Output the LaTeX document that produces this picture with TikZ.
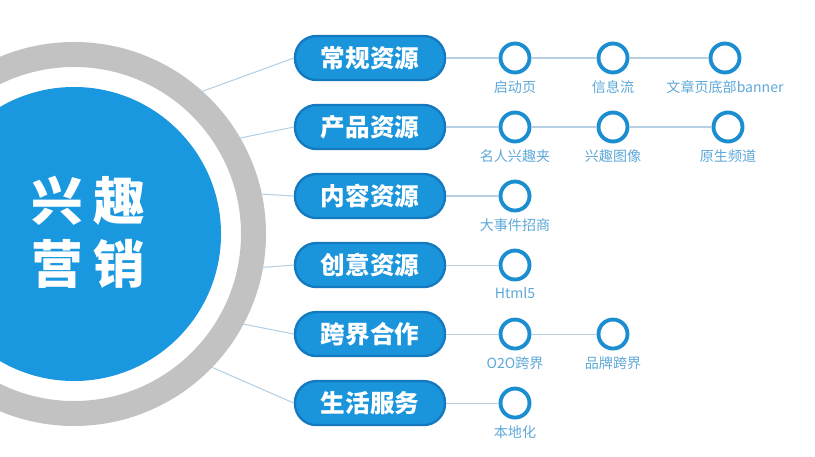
\documentclass[tikz,border=0pt]{standalone}
\usepackage{fontspec}
\usepackage{xcolor}
\usepackage{tikz}
\usetikzlibrary{positioning}
\newfontfamily\cjk{Noto Sans CJK SC}
\definecolor{discblue}{HTML}{1A98DF}
\definecolor{pillblue}{HTML}{1A95DC}
\definecolor{pilledge}{HTML}{1479BE}
\definecolor{ringgray}{HTML}{C2C2C2}
\definecolor{dotblue}{HTML}{1A8ED0}
\definecolor{linkblue}{HTML}{B6CFE2}
\definecolor{labelblue}{HTML}{5EA8D8}

\begin{document}
\begin{tikzpicture}[
    x=0.03cm, y=-0.03cm,
    node distance=0.68cm,
    res/.style={
        rectangle, rounded corners=0.64cm,
        draw=pilledge, line width=2pt, fill=pillblue,
        minimum width=4.5cm, minimum height=1.32cm, inner sep=0pt,
        text=white, font=\cjk\bfseries\fontsize{21}{21}\selectfont
    },
    dot/.style={circle, draw=dotblue, line width=3.3pt, fill=white,
        minimum size=0.87cm, inner sep=0pt},
    lbl/.style={text=labelblue, font=\cjk\fontsize{12}{12}\selectfont, inner sep=1pt},
    link/.style={draw=linkblue, line width=0.9pt}
]
\useasboundingbox (0,0) rectangle (815,457);
\clip (0,0) rectangle (815,457);

% big circle
\node[circle, draw=ringgray, line width=0.75cm, fill=white,
      minimum size=10.77cm, inner sep=0pt] (ring) at (74,234) {};
\node[circle, fill=discblue, minimum size=8.82cm, inner sep=0pt] (disc) at (74,234) {};
\node[text=white, align=center, font=\cjk\bfseries\fontsize{44}{54}\selectfont]
    (title) at (88,232) {兴\hspace{9pt}趣\\营\hspace{9pt}销};

% resources
\node[res] (p1) at (370,58) {常规资源};
\node[res, below=of p1] (p2) {产品资源};
\node[res, below=of p2] (p3) {内容资源};
\node[res, below=of p3] (p4) {创意资源};
\node[res, below=of p4] (p5) {跨界合作};
\node[res, below=of p5] (p6) {生活服务};

% dots
\node[dot] (d11) at (515,0 |- p1) {};
\node[dot] (d12) at (613,0 |- p1) {};
\node[dot] (d13) at (725,0 |- p1) {};
\node[dot] (d21) at (515,0 |- p2) {};
\node[dot] (d22) at (613,0 |- p2) {};
\node[dot] (d23) at (728,0 |- p2) {};
\node[dot] (d31) at (515,0 |- p3) {};
\node[dot] (d41) at (515,0 |- p4) {};
\node[dot] (d51) at (515,0 |- p5) {};
\node[dot] (d52) at (613,0 |- p5) {};
\node[dot] (d61) at (515,0 |- p6) {};

\node[lbl, below=4pt of d11] (t11) {启动页};
\node[lbl, below=4pt of d12] (t12) {信息流};
\node[lbl, below=4pt of d13] (t13) {文章页底部banner};
\node[lbl, below=4pt of d21] (t21) {名人兴趣夹};
\node[lbl, below=4pt of d22] (t22) {兴趣图像};
\node[lbl, below=4pt of d23] (t23) {原生频道};
\node[lbl, below=4pt of d31] (t31) {大事件招商};
\node[lbl, below=4pt of d41] (t41) {Html5};
\node[lbl, below=4pt of d51] (t51) {O2O跨界};
\node[lbl, below=4pt of d52] (t52) {品牌跨界};
\node[lbl, below=4pt of d61] (t61) {本地化};

% links
\draw[link] (ring.48) -- (p1.west);
\draw[link] (ring.30) -- (p2.west);
\draw[link] (ring.12) -- (p3.west);
\draw[link] (ring.-10) -- (p4.west);
\draw[link] (ring.-28) -- (p5.west);
\draw[link] (ring.-44) -- (p6.west);

\draw[link] (p1) -- (d11);
\draw[link] (d11) -- (d12);
\draw[link] (d12) -- (d13);
\draw[link] (p2) -- (d21);
\draw[link] (d21) -- (d22);
\draw[link] (d22) -- (d23);
\draw[link] (p3) -- (d31);
\draw[link] (p4) -- (d41);
\draw[link] (p5) -- (d51);
\draw[link] (d51) -- (d52);
\draw[link] (p6) -- (d61);
\end{tikzpicture}
\end{document}
